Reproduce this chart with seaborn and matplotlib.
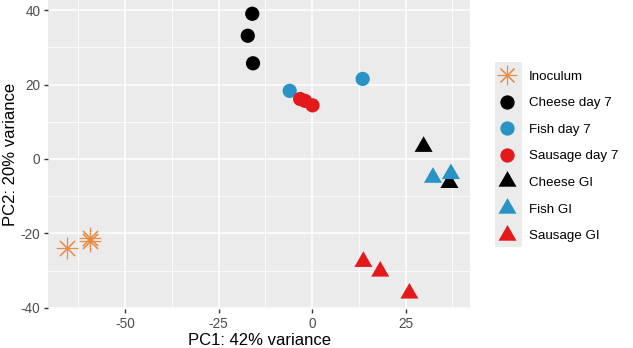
import pandas as pd
import numpy as np
import matplotlib.pyplot as plt
import seaborn as sns
from matplotlib.patches import Rectangle
from matplotlib.lines import Line2D

# Sample groups and PCA coordinates
groups = ["Inoculum", "Inoculum", "Inoculum",
          "Cheese day 7", "Cheese day 7", "Cheese day 7",
          "Fish day 7", "Fish day 7",
          "Sausage day 7", "Sausage day 7", "Sausage day 7",
          "Cheese GI", "Cheese GI",
          "Fish GI", "Fish GI",
          "Sausage GI", "Sausage GI", "Sausage GI"]
pc1 = [-65.6, -59.5, -59.3,
       -16.0, -17.2, -15.8,
       -6.0, 13.5,
       -3.2, -1.9, 0.1,
       29.8, 36.7,
       32.3, 37.1,
       13.7, 18.2, 26.0]
pc2 = [-24.0, -21.2, -22.0,
       39.0, 33.1, 25.7,
       18.3, 21.5,
       16.1, 15.6, 14.4,
       3.3, -6.4,
       -5.0, -4.0,
       -27.6, -30.2, -36.1]

group_order = ["Inoculum", "Cheese day 7", "Fish day 7", "Sausage day 7",
               "Cheese GI", "Fish GI", "Sausage GI"]
group_colors = ["#E98A45", "#000000", "#2A93C6", "#E3191C",
                "#000000", "#2A93C6", "#E3191C"]

plt.rcParams['font.family'] = ['Liberation Sans', 'DejaVu Sans']
plt.rcParams['axes.unicode_minus'] = False

# ggplot style markers: 8-spoke asterisk, dot, equilateral triangle
asterisk = (8, 2, 0)
tri = [(0, 0.577), (-0.5, -0.289), (0.5, -0.289), (0, 0.577)]
group_markers = [asterisk, "o", "o", "o", tri, tri, tri]

df = pd.DataFrame({"PC1": pc1, "PC2": pc2, "group": groups})

fig = plt.figure(figsize=(6.33, 3.48), dpi=100)
ax = fig.add_axes([48 / 633, 1 - 309 / 348, 422 / 633, 309 / 348])
ax.set_facecolor("#EBEBEB")

# seaborn can't mix line-art and filled markers in one call, so draw per group
handles = []
for name, col, mk in zip(group_order, group_colors, group_markers):
    sub = df[df["group"] == name]
    if mk == asterisk:
        sns.scatterplot(data=sub, x="PC1", y="PC2", marker=mk, s=220,
                        color=col, linewidth=0.8, ax=ax)
        handles.append(Line2D([], [], linestyle="none", marker=mk, color=col,
                              markersize=14, markeredgewidth=0.8))
    elif mk == "o":
        sns.scatterplot(data=sub, x="PC1", y="PC2", marker=mk, s=105,
                        color=col, edgecolor="none", ax=ax)
        handles.append(Line2D([], [], linestyle="none", marker=mk, color=col,
                              markersize=10.3, markeredgewidth=0))
    else:
        sns.scatterplot(data=sub, x="PC1", y="PC2", marker=mk, s=225,
                        color=col, edgecolor="none", ax=ax)
        handles.append(Line2D([], [], linestyle="none", marker=mk, color=col,
                              markersize=15, markeredgewidth=0))

ax.set_xlim(-70.6, 42.2)
ax.set_ylim(-40.3, 42.7)
ax.set_xticks([-50, -25, 0, 25])
ax.set_yticks([-40, -20, 0, 20, 40])
ax.set_xticks([-62.5, -37.5, -12.5, 12.5, 37.5], minor=True)
ax.set_yticks([-30, -10, 10, 30], minor=True)
ax.grid(which="major", color="white", linewidth=1.1)
ax.grid(which="minor", color="white", linewidth=0.55)
ax.set_axisbelow(True)
for s in ax.spines.values():
    s.set_visible(False)
ax.tick_params(which="major", colors="#333333", labelcolor="#4D4D4D",
               labelsize=9.8, length=3, width=1, pad=2.5)
ax.tick_params(which="minor", length=0)
ax.set_xlabel("PC1: 42% variance", fontsize=12, labelpad=2)
ax.set_ylabel("PC2: 20% variance", fontsize=12, labelpad=2)

leg = fig.legend(handles, group_order, loc="upper left",
                 bbox_to_anchor=(487 / 633, 1 - 61 / 348),
                 frameon=False, fontsize=9.6, handletextpad=0.85,
                 labelspacing=1.07, borderpad=0.2, handlelength=1.6)

# grey key background as in ggplot legends
fig.patches.append(Rectangle((495 / 633, 1 - 247 / 348), 27 / 633, 185 / 348,
                             transform=fig.transFigure, facecolor="#EBEBEB",
                             edgecolor="none", zorder=-1))

fig.savefig("out.png", dpi=100)
